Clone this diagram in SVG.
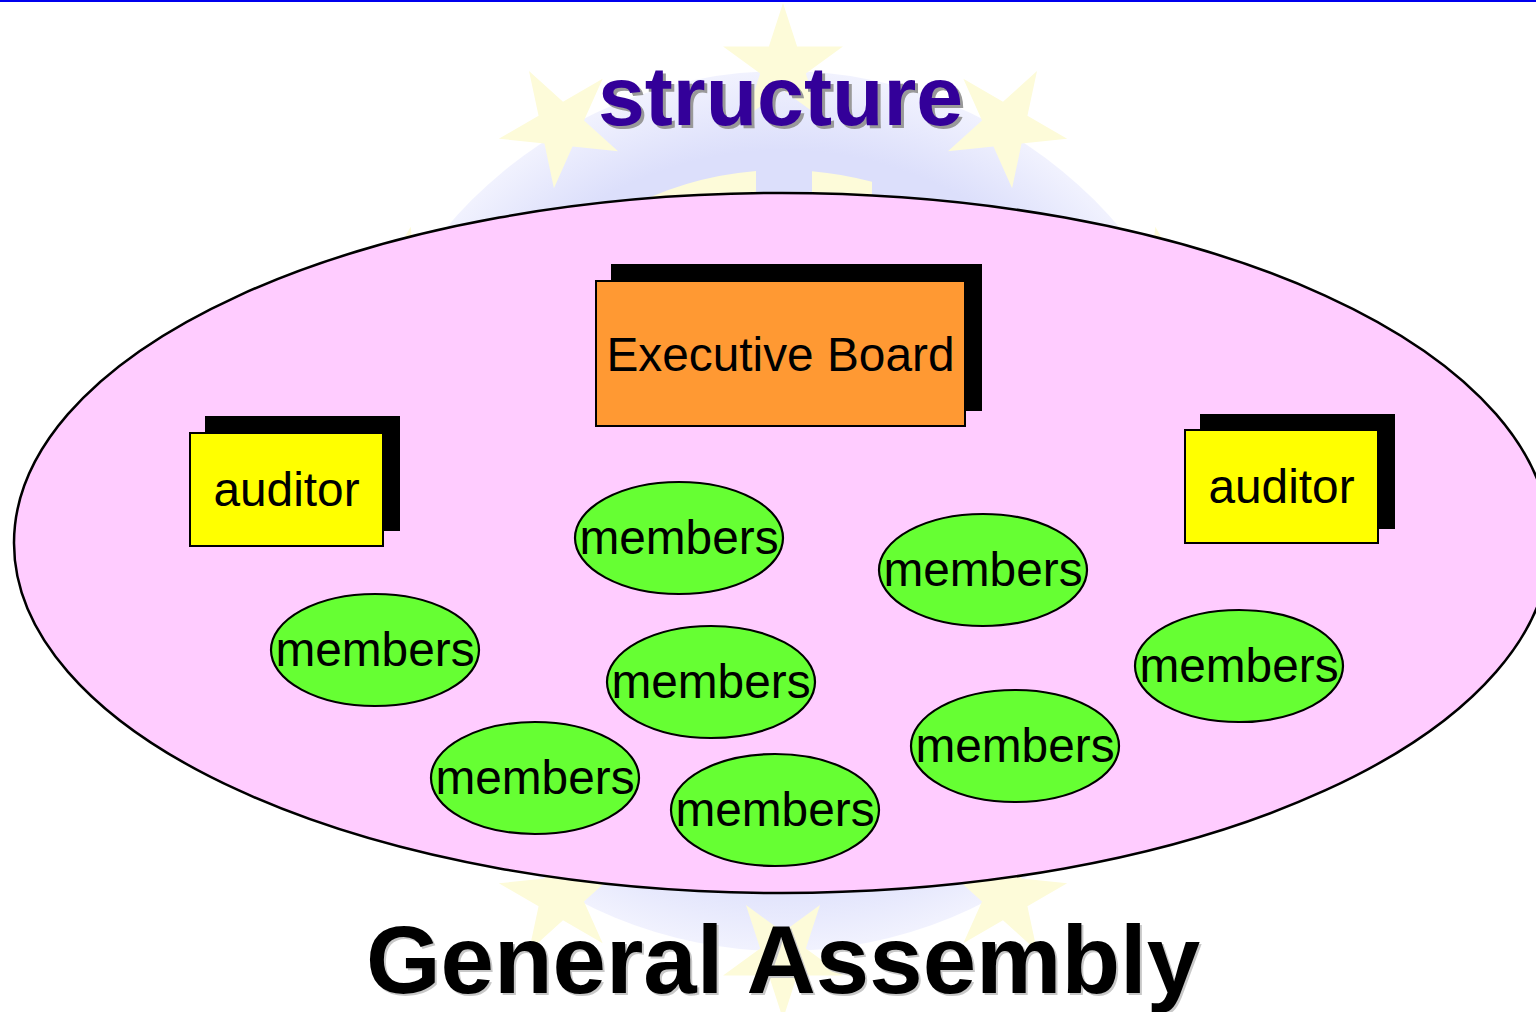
<svg xmlns="http://www.w3.org/2000/svg" width="1536" height="1012" viewBox="0 0 1536 1012">
<style>
.star{fill:#fdfbd9}
.box{stroke:#000;stroke-width:2}
.shadow{fill:#000}
.lbl{font-family:"Liberation Sans",Arial,sans-serif;font-size:47.8px;fill:#000;text-anchor:middle}
.mem{fill:#66ff33;stroke:#000;stroke-width:2.2}
.title{font-family:"Liberation Sans",Arial,sans-serif;font-weight:bold;text-anchor:middle}
</style>
<defs>
<radialGradient id="disc" cx="783" cy="511" r="440" gradientUnits="userSpaceOnUse">
<stop offset="0" stop-color="#dcdffb"/>
<stop offset="0.82" stop-color="#dcdffb"/>
<stop offset="1" stop-color="#f1f2fe"/>
</radialGradient>
<path id="star" d="M0,-63 L14.11,-19.42 L59.92,-19.47 L22.83,7.42 L37.03,50.97 L0,24 L-37.03,50.97 L-22.83,7.42 L-59.92,-19.47 L-14.11,-19.42 Z"/>
</defs>
<rect width="1536" height="1012" fill="#fff"/>
<rect x="0" y="0" width="1536" height="2" fill="#0000ee"/>
<g id="logo">
<circle cx="783" cy="511" r="440" fill="url(#disc)"/>
<path class="star" d="M620,212 A341,341 0 0 1 756,171.1 L756,230 L620,230 Z"/>
<path class="star" d="M812,171.2 A341,341 0 0 1 872,181.8 L872,230 L812,230 Z"/>
<use href="#star" class="star" transform="translate(783,66)"/>
<use href="#star" class="star" transform="translate(1005.5,125.6) rotate(30)"/>
<use href="#star" class="star" transform="translate(560.5,125.6) rotate(-30)"/>
<use href="#star" class="star" transform="translate(1168.4,288.5) rotate(60)"/>
<use href="#star" class="star" transform="translate(397.6,288.5) rotate(-60)"/>
<use href="#star" class="star" transform="translate(1228,511) rotate(90)"/>
<use href="#star" class="star" transform="translate(338,511) rotate(-90)"/>
<use href="#star" class="star" transform="translate(1168.4,733.5) rotate(120)"/>
<use href="#star" class="star" transform="translate(397.6,733.5) rotate(-120)"/>
<use href="#star" class="star" transform="translate(1005.5,896.4) rotate(150)"/>
<use href="#star" class="star" transform="translate(560.5,896.4) rotate(-150)"/>
<use href="#star" class="star" transform="translate(783,956) rotate(180)"/>
</g>
<g id="title-structure">
<text class="title" x="783.5" y="128" font-size="84" fill="#999999" textLength="365" lengthAdjust="spacingAndGlyphs">structure</text>
<text class="title" x="780.5" y="125" font-size="84" fill="#330099" textLength="365" lengthAdjust="spacingAndGlyphs">structure</text>
</g>
<g id="general-assembly">
<ellipse cx="782" cy="543" rx="768" ry="350" fill="#ffccff" stroke="#000" stroke-width="2.5"/>
</g>
<g id="executive-board">
<rect class="shadow" x="611" y="264" width="371" height="147"/>
<rect class="box" x="596" y="281" width="369" height="145" fill="#ff9933"/>
<text class="lbl" x="780.5" y="371">Executive Board</text>
</g>
<g id="auditor-left">
<rect class="shadow" x="205" y="416" width="195" height="115"/>
<rect class="box" x="190" y="433" width="193" height="113" fill="#ffff00"/>
<text class="lbl" x="286.5" y="506">auditor</text>
</g>
<g id="auditor-right">
<rect class="shadow" x="1200" y="414" width="195" height="115"/>
<rect class="box" x="1185" y="430" width="193" height="113" fill="#ffff00"/>
<text class="lbl" x="1281.5" y="503">auditor</text>
</g>
<g id="members-1"><ellipse class="mem" cx="679" cy="538" rx="104" ry="56"/><text class="lbl" x="679" y="554">members</text></g>
<g id="members-2"><ellipse class="mem" cx="983" cy="570" rx="104" ry="56"/><text class="lbl" x="983" y="586">members</text></g>
<g id="members-3"><ellipse class="mem" cx="375" cy="650" rx="104" ry="56"/><text class="lbl" x="375" y="666">members</text></g>
<g id="members-4"><ellipse class="mem" cx="711" cy="682" rx="104" ry="56"/><text class="lbl" x="711" y="698">members</text></g>
<g id="members-5"><ellipse class="mem" cx="1239" cy="666" rx="104" ry="56"/><text class="lbl" x="1239" y="682">members</text></g>
<g id="members-6"><ellipse class="mem" cx="535" cy="778" rx="104" ry="56"/><text class="lbl" x="535" y="794">members</text></g>
<g id="members-7"><ellipse class="mem" cx="1015" cy="746" rx="104" ry="56"/><text class="lbl" x="1015" y="762">members</text></g>
<g id="members-8"><ellipse class="mem" cx="775" cy="810" rx="104" ry="56"/><text class="lbl" x="775" y="826">members</text></g>
<g id="connectors"></g>
<g id="label-general-assembly">
<text class="title" x="785" y="995" font-size="96" fill="#c8c8c8">General Assembly</text>
<text class="title" x="783" y="993" font-size="96" fill="#000">General Assembly</text>
</g>
</svg>
